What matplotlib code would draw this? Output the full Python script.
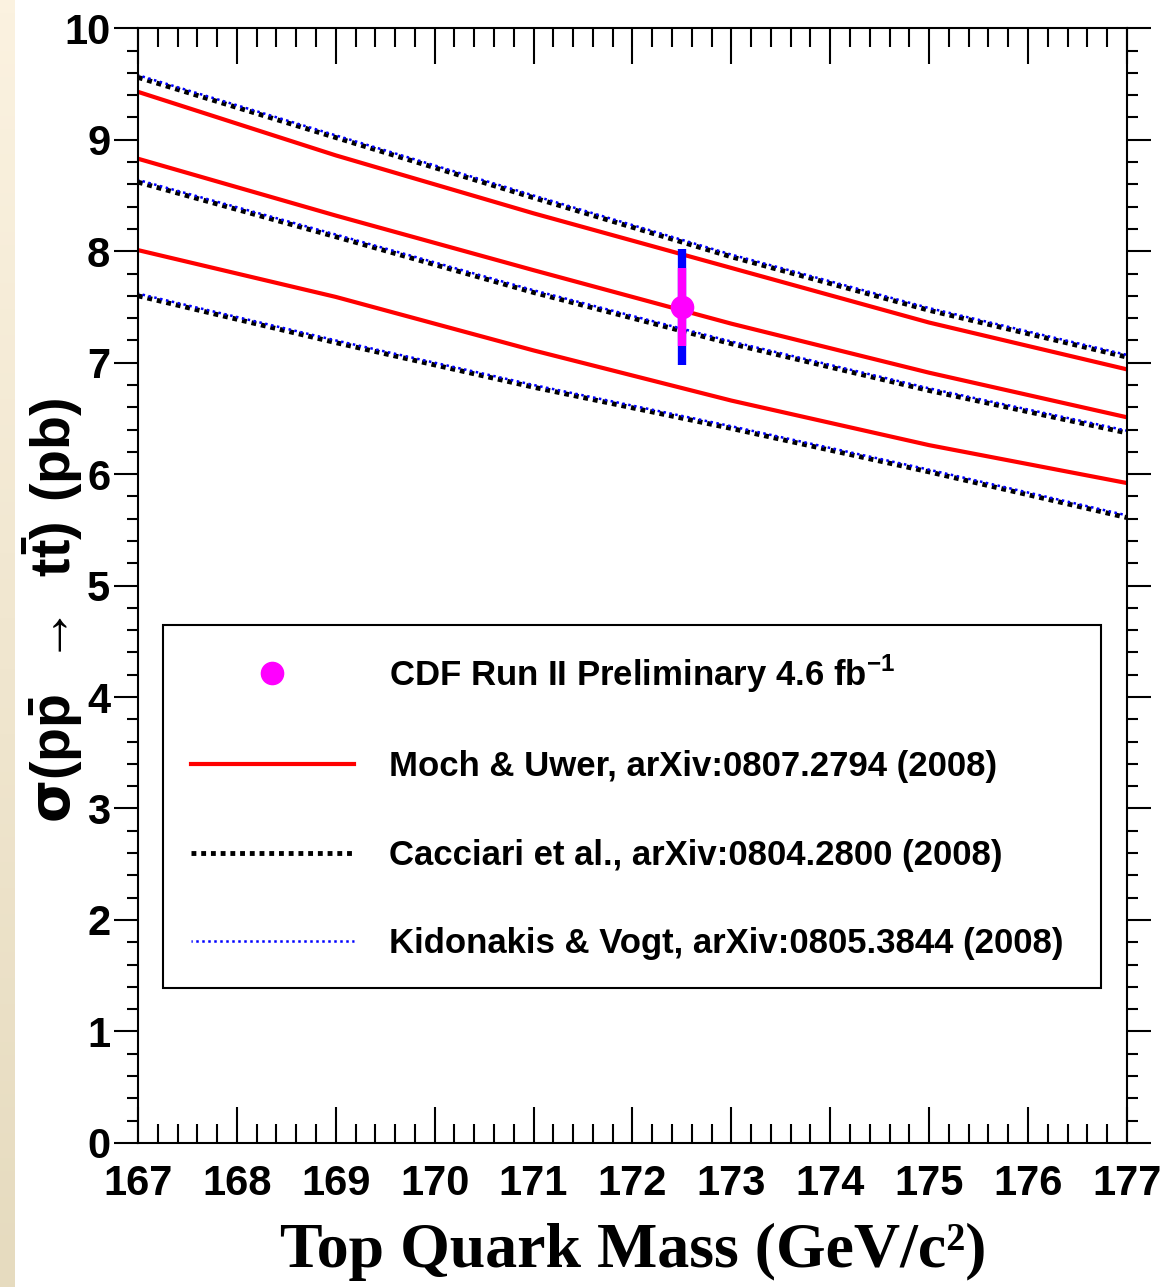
import numpy as np
import matplotlib.pyplot as plt
from matplotlib.lines import Line2D
from matplotlib.ticker import MultipleLocator

plt.rcParams['font.family'] = ['Liberation Sans', 'DejaVu Sans']
plt.rcParams['font.weight'] = 'bold'
plt.rcParams['mathtext.fontset'] = 'custom'
plt.rcParams['mathtext.rm'] = 'Liberation Sans:bold'
plt.rcParams['mathtext.bf'] = 'Liberation Sans:bold'
plt.rcParams['mathtext.it'] = 'DejaVu Sans'

# theory bands (upper / central / lower)
mass = [167, 169, 171, 173, 175, 177]
moch_hi = [9.43, 8.86, 8.34, 7.85, 7.36, 6.94]
moch_c = [8.83, 8.32, 7.83, 7.35, 6.91, 6.51]
moch_lo = [8.01, 7.59, 7.11, 6.66, 6.26, 5.92]
cacc_hi = [9.56, 9.02, 8.48, 7.95, 7.47, 7.05]
cacc_c = [8.62, 8.13, 7.63, 7.17, 6.75, 6.37]
cacc_lo = [7.60, 7.18, 6.78, 6.41, 6.02, 5.61]
kid_hi = [9.58, 9.04, 8.50, 7.97, 7.49, 7.07]
kid_c = [8.64, 8.15, 7.65, 7.19, 6.77, 6.39]
kid_lo = [7.62, 7.20, 6.80, 6.43, 6.04, 5.63]

# CDF measurement
cdf_mass = 172.5
cdf_xs = 7.5
cdf_stat = 0.35
cdf_tot = 0.52

labels = ['CDF Run II Preliminary 4.6 fb$^{\\mathbf{-1}}$',
          'Moch & Uwer, arXiv:0807.2794 (2008)',
          'Cacciari et al., arXiv:0804.2800 (2008)',
          'Kidonakis & Vogt, arXiv:0805.3844 (2008)']

fig = plt.figure(figsize=(11.69, 12.87), dpi=100)

# beige strip on the left edge
bg = fig.add_axes([0, 0, 15 / 1169, 1])
bg.imshow(np.linspace(0, 1, 100).reshape(-1, 1), aspect='auto',
          cmap=plt.matplotlib.colors.LinearSegmentedColormap.from_list('b', ['#fbf2e0', '#e6dbbf']))
bg.axis('off')

ax = fig.add_axes([0.118, 0.112, 0.846, 0.866])

black_dots = (0, (1, 1))
blue_dots = (0.5, (1, 1.4))
for y in (moch_hi, moch_c, moch_lo):
    ax.plot(mass, y, color='red', lw=3)
for y in (cacc_hi, cacc_c, cacc_lo):
    ax.plot(mass, y, color='black', lw=3.5, ls=black_dots)
for y in (kid_hi, kid_c, kid_lo):
    ax.plot(mass, y, color='blue', lw=1.8, ls=blue_dots)

ax.errorbar(cdf_mass, cdf_xs, yerr=cdf_tot, fmt='none', ecolor='blue', elinewidth=6, capsize=0)
ax.errorbar(cdf_mass, cdf_xs, yerr=cdf_stat, fmt='o', color='magenta', ms=16,
            ecolor='magenta', elinewidth=6, capsize=0)

ax.set_xlim(167, 177)
ax.set_ylim(0, 10)
ax.xaxis.set_major_locator(MultipleLocator(1))
ax.xaxis.set_minor_locator(MultipleLocator(0.2))
ax.yaxis.set_major_locator(MultipleLocator(1))
ax.yaxis.set_minor_locator(MultipleLocator(0.2))
ax.tick_params(axis='x', which='both', direction='in', top=True, bottom=True, width=1.5,
               labelsize=30, pad=15)
ax.tick_params(axis='x', which='major', length=26)
ax.tick_params(axis='x', which='minor', length=14)
ax.tick_params(axis='y', which='both', direction='out', left=True, right=True, width=1.5,
               labelsize=30, pad=3)
ax.tick_params(axis='y', which='major', length=17)
ax.tick_params(axis='y', which='minor', length=8)
for s in ax.spines.values():
    s.set_linewidth(1.5)

fig.text(0.5415, 0.027, 'Top Quark Mass (GeV/c\u00b2)', ha='center', va='center',
         fontsize=46, family='Liberation Serif', weight='bold')
fig.text(0.045, 0.526, r'$\sigma\mathbf{(p\bar{p}}\ \rightarrow\ \mathbf{t\bar{t})\ (pb)}$',
         rotation=90, ha='center', va='center', fontsize=40)

handles = [Line2D([], [], marker='o', color='magenta', ls='none', ms=16),
           Line2D([], [], color='red', lw=3),
           Line2D([], [], color='black', lw=3.5, ls=black_dots),
           Line2D([], [], color='blue', lw=1.8, ls=blue_dots)]
leg = ax.legend(handles, labels, loc='upper left', bbox_to_anchor=(0.0253, 0.0, 0.949, 0.465),
                mode='expand', fontsize=25, handlelength=4.7, handletextpad=1.0,
                labelspacing=1.6, borderpad=0.8, borderaxespad=0, fancybox=False,
                edgecolor='black', framealpha=1)
leg.get_frame().set_linewidth(1.5)

fig.savefig('out.png', dpi=100)
